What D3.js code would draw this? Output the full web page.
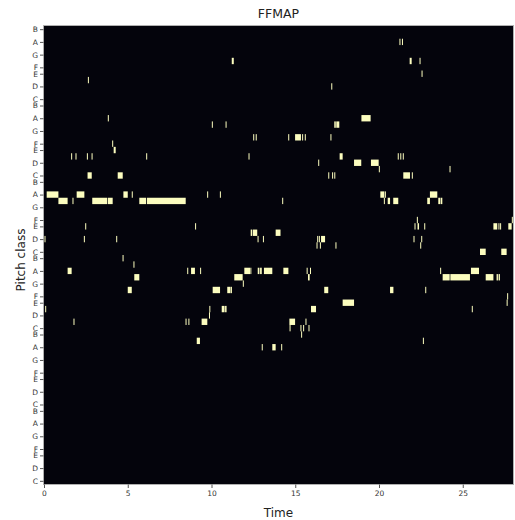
<!DOCTYPE html>
<html>
<head>
<meta charset="utf-8">
<script src="https://cdn.jsdelivr.net/npm/d3@7"></script>
<style>
  html, body { margin: 0; padding: 0; background: #ffffff; }
  svg { display: block; font-family: "DejaVu Sans", sans-serif; }
</style>
</head>
<body>
<div id="chart"></div>
<script>
// ---------------- data ----------------
const chartTitle = "FFMAP";
const xLabel = "Time";
const yLabel = "Pitch class";
const timeMax = 28;
const octaveCount = 6;
const xTickValues = [0, 5, 10, 15, 20, 25];
const yTickLabels = ["C", "D", "E", "F", "G", "A", "B"];
const yTickSemitones = [0, 2, 4, 5, 7, 9, 11];

// note events: [row (semitone index from bottom C), onset, offset] in seconds
const notesOctave2 = [
  [21, 13.00, 13.06], [21, 13.63, 13.83], [21, 14.16, 14.22],
  [22, 9.12, 9.31], [22, 22.62, 22.68],
  [23, 15.35, 15.41]
];
const notesOctave3 = [
  [24, 14.66, 14.72], [24, 15.31, 15.37], [24, 15.47, 15.53], [24, 15.79, 15.85],
  [25, 1.76, 1.82], [25, 8.45, 8.51], [25, 8.62, 8.68], [25, 9.41, 9.75], [25, 14.65, 14.99], [25, 15.61, 15.67],
  [26, 9.85, 9.91],
  [27, 0.07, 0.13], [27, 9.87, 9.93], [27, 10.61, 10.78], [27, 10.81, 10.90], [27, 15.94, 16.24], [27, 25.54, 25.60],
  [28, 17.83, 18.51], [28, 27.62, 27.68],
  [29, 27.65, 27.71],
  [30, 5.00, 5.24], [30, 10.07, 10.51], [30, 10.94, 11.14], [30, 11.16, 11.22], [30, 16.73, 16.97], [30, 20.66, 20.86], [30, 22.76, 22.82],
  [31, 11.87, 11.93],
  [32, 5.39, 5.69], [32, 11.36, 11.86], [32, 15.76, 15.86], [32, 23.80, 24.22], [32, 24.26, 25.43], [32, 26.37, 26.83], [32, 27.02, 27.10], [32, 27.14, 27.22],
  [33, 1.41, 1.65], [33, 8.55, 8.61], [33, 8.78, 9.01], [33, 9.32, 9.38], [33, 11.96, 12.30], [33, 12.32, 12.38], [33, 12.76, 12.86], [33, 12.90, 13.00], [33, 13.13, 13.63], [33, 14.29, 14.59], [33, 15.68, 15.74], [33, 15.88, 15.94], [33, 23.65, 23.71], [33, 25.49, 25.97],
  [34, 5.34, 5.40],
  [35, 4.69, 4.75]
];
const notesOctave4 = [
  [36, 26.03, 26.37], [36, 27.30, 27.62],
  [37, 16.27, 16.33], [37, 16.47, 16.53], [37, 17.40, 17.46], [37, 22.46, 22.52],
  [38, 0.03, 0.09], [38, 2.38, 2.44], [38, 4.31, 4.37], [38, 12.75, 12.81], [38, 13.07, 13.13], [38, 16.31, 16.37], [38, 16.41, 16.47], [38, 16.54, 16.78], [38, 22.06, 22.12], [38, 22.52, 22.58],
  [39, 12.34, 12.42], [39, 12.46, 12.73], [39, 13.83, 14.12],
  [40, 2.46, 2.52], [40, 9.02, 9.08], [40, 22.12, 22.18], [40, 22.30, 22.39], [40, 22.70, 22.76], [40, 26.83, 27.06], [40, 27.13, 27.19], [40, 27.23, 27.29], [40, 27.72, 27.92],
  [41, 22.26, 22.32], [41, 27.93, 27.99],
  [44, 0.86, 1.41], [44, 1.70, 1.76], [44, 2.88, 3.78], [44, 3.82, 4.10], [44, 5.69, 6.10], [44, 6.15, 8.46], [44, 14.22, 14.28], [44, 20.29, 20.35], [44, 20.52, 20.66], [44, 20.85, 21.15], [44, 22.88, 23.04], [44, 23.54, 23.65], [44, 23.68, 23.78],
  [45, 0.16, 0.86], [45, 1.95, 2.41], [45, 4.74, 5.00], [45, 5.24, 5.30], [45, 9.74, 9.80], [45, 10.50, 10.56], [45, 20.08, 20.32], [45, 20.35, 20.41], [45, 23.04, 23.48]
];
const notesOctave5 = [
  [48, 2.60, 2.85], [48, 4.40, 4.70], [48, 16.97, 17.03], [48, 17.20, 17.26], [48, 17.33, 17.39], [48, 21.45, 21.85], [48, 21.96, 22.02],
  [49, 19.99, 20.05], [49, 24.21, 24.27],
  [50, 16.37, 16.43], [50, 18.51, 18.94], [50, 19.52, 19.98],
  [51, 1.62, 1.68], [51, 1.88, 1.94], [51, 2.56, 2.62], [51, 2.84, 2.90], [51, 6.10, 6.16], [51, 12.21, 12.27], [51, 17.65, 17.83], [51, 21.12, 21.18], [51, 21.27, 21.33], [51, 21.42, 21.48],
  [52, 4.16, 4.28],
  [53, 4.07, 4.13],
  [54, 12.49, 12.55], [54, 12.64, 12.70], [54, 14.58, 14.64], [54, 14.99, 15.34], [54, 15.41, 15.47], [54, 15.57, 15.63], [54, 17.10, 17.16],
  [56, 10.02, 10.08], [56, 10.84, 10.90], [56, 17.33, 17.42], [56, 17.45, 17.63],
  [57, 3.81, 3.87], [57, 18.95, 19.50]
];
const notesOctave6 = [
  [62, 17.15, 17.21],
  [63, 2.62, 2.68],
  [64, 22.54, 22.60],
  [66, 11.21, 11.33], [66, 21.83, 21.95], [66, 22.42, 22.48],
  [69, 21.22, 21.28], [69, 21.37, 21.43]
];

// ---------------- drawing ----------------
const W = 515, H = 520;
const margin = { left: 44, right: 2, top: 26, bottom: 36 };
const plotW = W - margin.left - margin.right;
const plotH = H - margin.top - margin.bottom;
const rowCount = octaveCount * 12;

const svg = d3.select("#chart").append("svg")
  .attr("width", W).attr("height", H);

const x = d3.scaleLinear().domain([0, timeMax]).range([margin.left, margin.left + plotW]);
const y = d3.scaleLinear().domain([0, rowCount]).range([margin.top + plotH, margin.top]);

const bg = "#04040c";
const hi = "#fcfdbf";

svg.append("rect")
  .attr("x", x(0)).attr("y", y(rowCount))
  .attr("width", x(timeMax) - x(0)).attr("height", y(0) - y(rowCount))
  .attr("fill", bg);

const allNotes = [].concat(notesOctave2, notesOctave3, notesOctave4, notesOctave5, notesOctave6);

svg.append("g").selectAll("rect")
  .data(allNotes)
  .join("rect")
  .attr("x", d => x(d[1]))
  .attr("width", d => x(d[2]) - x(d[1]))
  .attr("y", d => y(d[0] + 1))
  .attr("height", d => y(d[0]) - y(d[0] + 1))
  .attr("fill", hi);

// frame
svg.append("rect")
  .attr("x", x(0) - 0.5).attr("y", y(rowCount) - 0.5)
  .attr("width", x(timeMax) - x(0) + 1).attr("height", y(0) - y(rowCount) + 1)
  .attr("fill", "none").attr("stroke", "#b0b0b0").attr("stroke-width", 1);

// y axis ticks
const yTicks = [];
const yTickText = {};
for (let o = 0; o < octaveCount; o++) {
  yTickSemitones.forEach((s, i) => {
    const v = o * 12 + s + 0.5;
    yTicks.push(v);
    yTickText[v] = yTickLabels[i];
  });
}
const yAxis = d3.axisLeft(y).tickValues(yTicks).tickFormat(v => yTickText[v]).tickSize(3.5).tickPadding(2);
const gy = svg.append("g").attr("transform", `translate(${x(0) - 0.5},0)`).call(yAxis);
gy.select(".domain").remove();
gy.selectAll("text").attr("font-size", "7.5px").attr("fill", "#333").attr("font-family", "DejaVu Sans");
gy.selectAll("line").attr("stroke", "#555");

const xAxis = d3.axisBottom(x).tickValues(xTickValues).tickFormat(d3.format("d")).tickSize(3.5).tickPadding(2.5);
const gx = svg.append("g").attr("transform", `translate(0,${y(0) + 0.5})`).call(xAxis);
gx.select(".domain").remove();
gx.selectAll("text").attr("font-size", "7.5px").attr("fill", "#333").attr("font-family", "DejaVu Sans");
gx.selectAll("line").attr("stroke", "#555");

// title & labels
svg.append("text")
  .attr("x", (x(0) + x(timeMax)) / 2).attr("y", 18)
  .attr("text-anchor", "middle").attr("font-size", "12.5px").attr("fill", "#222")
  .text(chartTitle);

svg.append("text")
  .attr("x", (x(0) + x(timeMax)) / 2).attr("y", 516.5)
  .attr("text-anchor", "middle").attr("font-size", "12px").attr("fill", "#222")
  .text(xLabel);

svg.append("text")
  .attr("transform", `translate(24.5,${(y(0) + y(rowCount)) / 2 + 5}) rotate(-90)`)
  .attr("text-anchor", "middle").attr("font-size", "12px").attr("fill", "#222")
  .text(yLabel);
</script>
</body>
</html>
